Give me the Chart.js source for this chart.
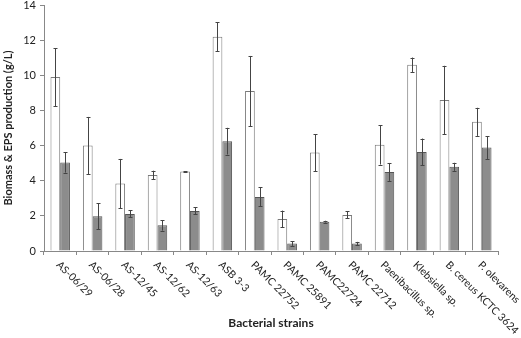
<!DOCTYPE html>
<html lang="en">
<head>
<meta charset="UTF-8">
<script src="https://cdn.jsdelivr.net/npm/chart.js"></script>
<title>Biomass & EPS</title>
<style>
  html, body { margin: 0; padding: 0; background: #fff; }
  #wrap { width: 521px; height: 338px; }
</style>
</head>
<body>
<div id="wrap"><canvas id="myChart"></canvas></div>
<script>
const strains = ['AS-06/29', 'AS-06/28', 'AS-12/45', 'AS-12/62', 'AS-12/63', 'ASB 3-3', 'PAMC 22752',
  'PAMC 25891', 'PAMC22724', 'PAMC 22712', 'Paenibacillus sp.', 'Klebsiella sp.', 'B. cereus KCTC 3624', 'P. olevarens'];
const biomass = [9.9, 6.0, 3.84, 4.33, 4.52, 12.2, 9.1, 1.82, 5.6, 2.05, 6.04, 10.6, 8.6, 7.35];
const biomassErr = [1.65, 1.63, 1.4, 0.24, 0.03, 0.83, 2.0, 0.48, 1.05, 0.2, 1.12, 0.41, 1.94, 0.8];
const eps = [5.04, 1.98, 2.11, 1.46, 2.28, 6.25, 3.08, 0.42, 1.67, 0.42, 4.5, 5.64, 4.79, 5.89];
const epsErr = [0.58, 0.75, 0.2, 0.3, 0.2, 0.76, 0.54, 0.13, 0.05, 0.1, 0.51, 0.76, 0.23, 0.65];
const yTicks = [0, 2, 4, 6, 8, 10, 12, 14];

const FONT = 'Lato, "Open Sans", sans-serif';

// error bars + slanted category labels
const extras = {
  id: 'extras',
  afterDatasetsDraw(chart) {
    const ctx = chart.ctx;
    const y = chart.scales.y;
    const errs = [biomassErr, epsErr];
    ctx.save();
    ctx.strokeStyle = '#444';
    ctx.lineWidth = 1;
    chart.data.datasets.forEach((ds, di) => {
      chart.getDatasetMeta(di).data.forEach((bar, i) => {
        const v = ds.data[i], e = errs[di][i];
        const top = y.getPixelForValue(v + e), bot = y.getPixelForValue(v - e);
        const x = Math.round(bar.x) + 0.5;
        ctx.beginPath();
        ctx.moveTo(x, top); ctx.lineTo(x, bot);
        ctx.moveTo(x - 2, Math.round(top) + 0.5); ctx.lineTo(x + 2, Math.round(top) + 0.5);
        ctx.moveTo(x - 2, Math.round(bot) + 0.5); ctx.lineTo(x + 2, Math.round(bot) + 0.5);
        ctx.stroke();
      });
    });
    ctx.restore();
  },
  afterDraw(chart) {
    const ctx = chart.ctx;
    const x = chart.scales.x;
    ctx.save();
    ctx.font = '10.5px ' + FONT;
    ctx.fillStyle = '#222';
    ctx.textAlign = 'left';
    ctx.textBaseline = 'middle';
    strains.forEach((s, i) => {
      ctx.save();
      ctx.translate(x.getPixelForValue(i) - 2, x.top + 12);
      ctx.rotate(Math.PI / 4);
      ctx.fillText(s, 0, 0);
      ctx.restore();
    });
    ctx.restore();
  }
};

new Chart(document.getElementById('myChart'), {
  type: 'bar',
  data: {
    labels: strains,
    datasets: [{
      label: 'Biomass',
      data: biomass,
      backgroundColor: '#ffffff',
      borderColor: '#7a7a7a',
      borderWidth: 1
    }, {
      label: 'EPS',
      data: eps,
      backgroundColor: '#8c8c8c',
      borderColor: '#555555',
      borderWidth: 1
    }]
  },
  options: {
    responsive: true,
    maintainAspectRatio: false,
    animation: false,
    layout: { padding: { top: 5, right: 23, bottom: 0, left: 0 } },
    plugins: { legend: { display: false }, tooltip: { enabled: false } },
    datasets: { bar: { categoryPercentage: 0.6, barPercentage: 1.0 } },
    scales: {
      x: {
        grid: { drawOnChartArea: false, tickLength: 4, color: '#888', offset: true },
        border: { color: '#888' },
        ticks: { display: false },
        title: { display: true, text: 'Bacterial strains', color: '#222',
          font: { family: FONT, size: 12, weight: 'bold' }, padding: { top: 0, bottom: 8 } },
        afterFit: s => { s.height = 87; }
      },
      y: {
        min: 0, max: 14,
        afterBuildTicks: s => { s.ticks = yTicks.map(v => ({ value: v })); },
        grid: { drawOnChartArea: false, tickLength: 4, color: '#888' },
        border: { color: '#888' },
        ticks: { color: '#222', font: { family: FONT, size: 11 }, padding: 4 },
        title: { display: true, text: 'Biomass & EPS production (g/L)', color: '#222',
          font: { family: FONT, size: 11, weight: 'bold' }, padding: { top: 2, bottom: 0 } },
        afterFit: s => { s.width = 44; s.paddingTop = 0; s.paddingBottom = 0; }
      }
    }
  },
  plugins: [extras]
});
</script>
</body>
</html>
